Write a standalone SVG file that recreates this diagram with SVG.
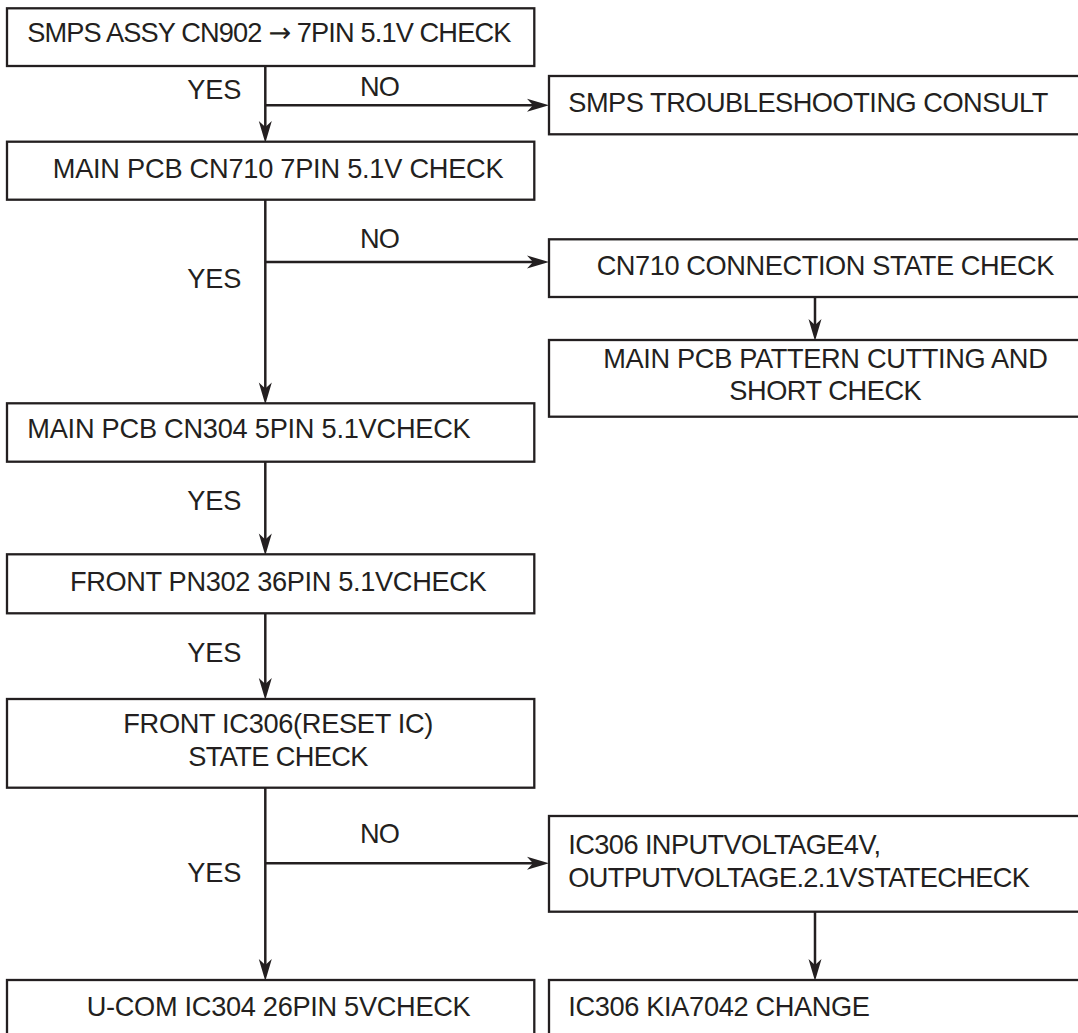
<svg xmlns="http://www.w3.org/2000/svg" width="1078" height="1033" viewBox="0 0 1078 1033">
<defs>
<style>
.box{fill:#fff;stroke:#231f20;stroke-width:2.3}
.t{font-family:"Liberation Sans",Arial,Helvetica,sans-serif;font-size:27.2px;fill:#231f20}
.m{text-anchor:middle}
.c{fill:none;stroke:#231f20;stroke-width:2.5}
.arw{font-family:"DejaVu Sans",sans-serif}
</style>
<marker id="ah" viewBox="-24 -8 26 16" refX="-8" refY="0" markerWidth="26" markerHeight="16" markerUnits="userSpaceOnUse" orient="auto">
<path d="M0,0 L-22,-6.5 L-16,0 L-22,6.5 Z" fill="#231f20"/>
</marker>
</defs>
<rect width="1078" height="1033" fill="#fff"/>

<g id="connectors">
<line class="c" x1="265.3" y1="66" x2="265.3" y2="135" marker-end="url(#ah)"/>
<line class="c" x1="265.3" y1="105.3" x2="541" y2="105.3" marker-end="url(#ah)"/>
<line class="c" x1="265.3" y1="199.7" x2="265.3" y2="396.5" marker-end="url(#ah)"/>
<line class="c" x1="265.3" y1="262" x2="541" y2="262" marker-end="url(#ah)"/>
<line class="c" x1="815" y1="297" x2="815" y2="333" marker-end="url(#ah)"/>
<line class="c" x1="265.3" y1="461.7" x2="265.3" y2="547.5" marker-end="url(#ah)"/>
<line class="c" x1="265.3" y1="613.3" x2="265.3" y2="692" marker-end="url(#ah)"/>
<line class="c" x1="265.3" y1="787.7" x2="265.3" y2="973" marker-end="url(#ah)"/>
<line class="c" x1="265.3" y1="863.3" x2="541" y2="863.3" marker-end="url(#ah)"/>
<line class="c" x1="815" y1="911.7" x2="815" y2="973" marker-end="url(#ah)"/>
</g>

<g id="labels">
<text class="t" x="187.3" y="99" textLength="54" lengthAdjust="spacing">YES</text>
<text class="t" x="360" y="95.7" textLength="40" lengthAdjust="spacing">NO</text>
<text class="t" x="187.3" y="288.3" textLength="54" lengthAdjust="spacing">YES</text>
<text class="t" x="360" y="248.3" textLength="40" lengthAdjust="spacing">NO</text>
<text class="t" x="187.3" y="510" textLength="54" lengthAdjust="spacing">YES</text>
<text class="t" x="187.3" y="661.7" textLength="54" lengthAdjust="spacing">YES</text>
<text class="t" x="187.3" y="882.3" textLength="54" lengthAdjust="spacing">YES</text>
<text class="t" x="360" y="843.3" textLength="40" lengthAdjust="spacing">NO</text>
</g>

<g id="n1">
<rect class="box" x="7" y="8.3" width="527.3" height="57.7"/>
<text class="t" x="27.3" y="42.3" textLength="484" lengthAdjust="spacing">SMPS ASSY CN902 <tspan class="arw">→</tspan> 7PIN 5.1V CHECK</text>
</g>
<g id="n2">
<rect class="box" x="549" y="76" width="560" height="58.3"/>
<text class="t" x="568.3" y="111.7" textLength="480" lengthAdjust="spacing">SMPS TROUBLESHOOTING CONSULT</text>
</g>
<g id="n3">
<rect class="box" x="7" y="141.7" width="527.3" height="58"/>
<text class="t m" x="278.2" y="177.7" textLength="450.9" lengthAdjust="spacing">MAIN PCB CN710 7PIN 5.1V CHECK</text>
</g>
<g id="n4">
<rect class="box" x="549" y="239.3" width="560" height="57.7"/>
<text class="t m" x="825.5" y="275" textLength="457.7" lengthAdjust="spacing">CN710 CONNECTION STATE CHECK</text>
</g>
<g id="n5">
<rect class="box" x="549" y="340" width="560" height="76.7"/>
<text class="t m" x="825.5" y="368.3" textLength="444.6" lengthAdjust="spacing">MAIN PCB PATTERN CUTTING AND</text>
<text class="t m" x="825.5" y="400" textLength="192.4" lengthAdjust="spacing">SHORT CHECK</text>
</g>
<g id="n6">
<rect class="box" x="7" y="403.3" width="527.3" height="58.4"/>
<text class="t" x="27.3" y="438.3" textLength="443.4" lengthAdjust="spacing">MAIN PCB CN304 5PIN 5.1VCHECK</text>
</g>
<g id="n7">
<rect class="box" x="7" y="554.3" width="527.3" height="59"/>
<text class="t m" x="278.3" y="591" textLength="416.7" lengthAdjust="spacing">FRONT PN302 36PIN 5.1VCHECK</text>
</g>
<g id="n8">
<rect class="box" x="7" y="699" width="527.3" height="88.7"/>
<text class="t m" x="278.3" y="733.3" textLength="310" lengthAdjust="spacing">FRONT IC306(RESET IC)</text>
<text class="t m" x="278.3" y="765.7" textLength="180" lengthAdjust="spacing">STATE CHECK</text>
</g>
<g id="n9">
<rect class="box" x="549" y="816" width="560" height="95.7"/>
<text class="t" x="568.3" y="854.3" textLength="312.7" lengthAdjust="spacing">IC306 INPUTVOLTAGE4V,</text>
<text class="t" x="568.3" y="886.7" textLength="461.7" lengthAdjust="spacing">OUTPUTVOLTAGE.2.1VSTATECHECK</text>
</g>
<g id="n10">
<rect class="box" x="7" y="980" width="527.3" height="80"/>
<text class="t m" x="278.7" y="1015.7" textLength="384" lengthAdjust="spacing">U-COM IC304 26PIN 5VCHECK</text>
</g>
<g id="n11">
<rect class="box" x="549" y="980" width="560" height="80"/>
<text class="t" x="568.3" y="1015.7" textLength="301.7" lengthAdjust="spacing">IC306 KIA7042 CHANGE</text>
</g>
</svg>
